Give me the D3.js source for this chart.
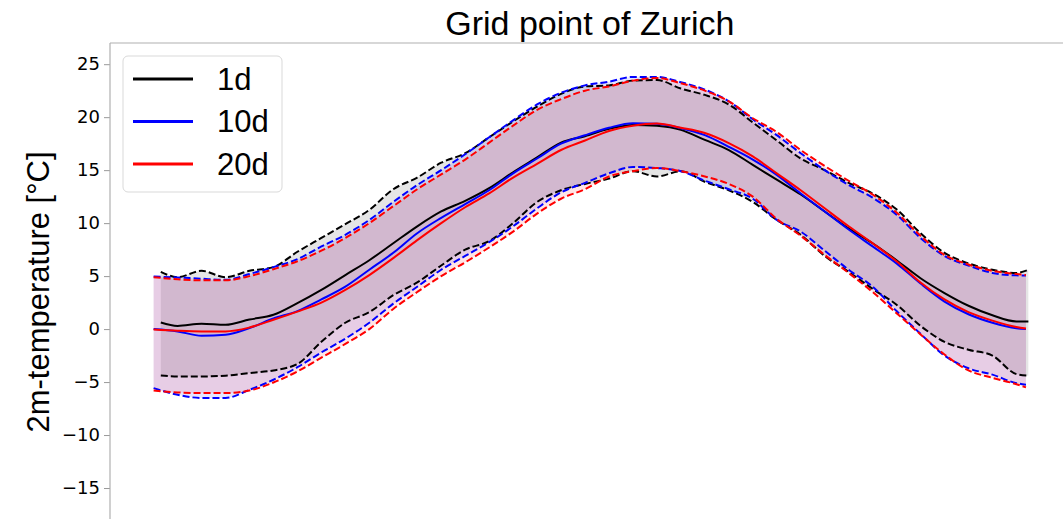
<!DOCTYPE html>
<html>
<head>
<meta charset="utf-8">
<script src="https://cdnjs.cloudflare.com/ajax/libs/d3/7.8.5/d3.min.js"></script>
<style>
  body { margin: 0; background: #fff; }
  svg { display: block; }
</style>
</head>
<body>
<div id="chart"></div>
<script>
// day of year, 10d and 20d runs
var days = [1, 11, 21, 31, 41, 51, 61, 71, 81, 91, 101, 111, 121, 131, 141, 151, 161, 171, 181,
  191, 201, 211, 221, 231, 241, 251, 261, 271, 281, 291, 301, 311, 321, 331, 341, 351, 361, 365];
// the 1d run starts / stops a few days later
var days1d = [4, 11, 21, 31, 41, 51, 61, 71, 81, 91, 101, 111, 121, 131, 141, 151, 161, 171, 181,
  191, 201, 211, 221, 231, 241, 251, 261, 271, 281, 291, 301, 311, 321, 331, 341, 351, 361, 366];

var mean1d = [0.62, 0.3, 0.5, 0.4, 0.9, 1.35, 2.45, 3.7, 5.1, 6.5, 8.1, 9.7, 11.1, 12.1, 13.3, 14.8, 16.2, 17.6, 18.2,
  18.9, 19.27, 19.18, 18.8, 17.85, 16.9, 15.5, 14.1, 12.7, 11.1, 9.5, 8.1, 6.5, 4.8, 3.4, 2.2, 1.3, 0.72, 0.72];
var upper1d = [5.4, 4.9, 5.5, 4.9, 5.5, 5.85, 7.3, 8.6, 9.9, 11.25, 13.2, 14.3, 15.7, 16.6, 18.1, 19.6, 21.0, 22.2, 22.9,
  23.0, 23.45, 23.5, 22.7, 22.1, 21.2, 19.5, 17.8, 16.1, 15.0, 13.8, 12.8, 11.3, 9.05, 7.2, 6.2, 5.6, 5.3, 5.6];
var lower1d = [-4.37, -4.47, -4.47, -4.4, -4.15, -3.9, -3.3, -1.2, 0.6, 1.6, 3.2, 4.4, 6.0, 7.5, 8.3, 10.0, 12.0, 13.1, 13.7,
  14.2, 14.9, 14.4, 14.9, 13.9, 13.1, 12.0, 10.3, 8.9, 6.9, 5.4, 3.8, 2.3, 0.3, -1.2, -1.95, -2.5, -4.25, -4.4];

var mean10d = [0.0, -0.22, -0.63, -0.54, 0.1, 1.0, 1.7, 2.8, 4.0, 5.6, 7.2, 9.05, 10.5, 11.8, 13.1, 14.7, 16.1, 17.5, 18.3,
  19.0, 19.43, 19.37, 18.96, 18.3, 17.2, 16.0, 14.55, 12.8, 11.1, 9.4, 7.8, 6.2, 4.3, 2.6, 1.4, 0.6, 0.08, 0.0];
var upper10d = [4.96, 4.87, 4.75, 4.65, 5.2, 5.85, 6.6, 7.8, 8.9, 10.3, 12.0, 13.6, 15.0, 16.5, 18.1, 19.7, 21.2, 22.3, 23.0,
  23.35, 23.8, 23.8, 23.3, 22.6, 21.5, 19.8, 18.3, 16.6, 15.0, 13.6, 12.4, 10.8, 8.6, 6.9, 6.0, 5.3, 5.07, 5.06];
var lower10d = [-5.57, -6.2, -6.5, -6.5, -5.73, -4.78, -3.6, -2.2, -0.9, 0.6, 2.4, 4.0, 5.6, 6.9, 8.2, 9.7, 11.4, 12.9, 13.8,
  14.7, 15.3, 15.2, 14.9, 14.0, 13.2, 12.3, 10.3, 9.2, 7.4, 5.6, 4.0, 1.7, -0.45, -2.5, -3.7, -4.3, -5.1, -5.25];

var mean20d = [-0.05, -0.16, -0.22, -0.22, 0.15, 0.88, 1.65, 2.5, 3.7, 5.1, 6.7, 8.4, 10.0, 11.5, 12.8, 14.3, 15.6, 16.9, 17.8,
  18.7, 19.2, 19.4, 19.0, 18.5, 17.55, 16.3, 14.7, 13.1, 11.4, 9.7, 8.1, 6.4, 4.4, 2.8, 1.6, 0.8, 0.2, 0.06];
var upper20d = [4.9, 4.7, 4.6, 4.6, 5.0, 5.65, 6.4, 7.4, 8.6, 10.0, 11.6, 13.2, 14.6, 16.0, 17.6, 19.2, 20.7, 21.7, 22.5,
  22.9, 23.45, 23.7, 23.2, 22.5, 21.5, 19.9, 18.6, 16.9, 15.4, 14.0, 12.7, 11.0, 8.8, 7.0, 6.1, 5.5, 5.2, 5.1];
var lower20d = [-5.8, -5.98, -6.04, -6.04, -5.8, -5.04, -4.0, -2.7, -1.4, 0.0, 1.9, 3.5, 5.0, 6.3, 7.7, 9.2, 10.9, 12.3, 13.2,
  14.4, 14.9, 15.2, 14.9, 14.4, 13.7, 12.5, 10.4, 8.8, 7.0, 5.3, 3.5, 1.5, -0.5, -2.4, -3.9, -4.6, -5.2, -5.5];

var yTicks = [-15, -10, -5, 0, 5, 10, 15, 20, 25];
var runNames = ["1d", "10d", "20d"];
var runColors = ["#000000", "#0000ff", "#ff0000"];

var svgWidth = 1063;
var svgHeight = 519;

// axes box (right and bottom edge are outside the picture)
var box = { left: 110, top: 43, right: 1069.6, bottom: 541 };

var svg = d3.select("#chart")
  .append("svg")
  .attr("width", svgWidth)
  .attr("height", svgHeight);

// matplotlib style 5% margins on x
var xScale = d3.scaleLinear()
  .domain([1 - 0.05 * 364, 365 + 0.05 * 364])
  .range([box.left, box.right]);

var yScale = d3.scaleLinear()
  .domain([-20, 27])
  .range([box.bottom, box.top]);

svg.append("clipPath")
  .attr("id", "plotclip")
  .append("rect")
  .attr("x", box.left)
  .attr("y", box.top)
  .attr("width", box.right - box.left)
  .attr("height", box.bottom - box.top);

function rows(dd, m, hi, lo) {
  return dd.map(function(d, i) {
    return { day: d, mean: m[i], hi: hi[i], lo: lo[i] };
  });
}

var runs = [
  rows(days1d, mean1d, upper1d, lower1d),
  rows(days, mean10d, upper10d, lower10d),
  rows(days, mean20d, upper20d, lower20d)
];

var plot = svg.append("g").attr("clip-path", "url(#plotclip)");

var band = d3.area()
  .x(d => xScale(d.day))
  .y0(d => yScale(d.lo))
  .y1(d => yScale(d.hi))
  .curve(d3.curveMonotoneX);

function lineOf(key) {
  return d3.line()
    .x(d => xScale(d.day))
    .y(d => yScale(d[key]))
    .curve(d3.curveMonotoneX);
}

// shaded spread of each run
runs.forEach(function(run, k) {
  plot.append("path")
    .datum(run)
    .attr("d", band)
    .attr("fill", runColors[k])
    .attr("fill-opacity", 0.1);
});

// mean lines and dashed bounds
runs.forEach(function(run, k) {
  plot.append("path")
    .datum(run)
    .attr("d", lineOf("mean"))
    .attr("fill", "none")
    .attr("stroke", runColors[k])
    .attr("stroke-width", 2);

  ["hi", "lo"].forEach(function(key) {
    plot.append("path")
      .datum(run)
      .attr("d", lineOf(key))
      .attr("fill", "none")
      .attr("stroke", runColors[k])
      .attr("stroke-width", 2)
      .attr("stroke-dasharray", "7,3");
  });
});

// y axis
var leftAxis = d3.axisLeft(yScale)
  .tickValues(yTicks)
  .tickSize(6)
  .tickPadding(4)
  .tickSizeOuter(0);

var yAxis = svg.append("g")
  .attr("transform", `translate(${box.left}, 0)`)
  .call(leftAxis);

yAxis.select(".domain").remove();
yAxis.selectAll("line").attr("stroke", "#999");
yAxis.selectAll("text")
  .attr("font-family", "DejaVu Sans")
  .attr("font-size", 18)
  .attr("fill", "#000");

// spines
svg.append("line")
  .attr("x1", box.left).attr("x2", box.left)
  .attr("y1", box.top).attr("y2", box.bottom)
  .attr("stroke", "#b0b0b0")
  .attr("stroke-width", 1.2);
svg.append("line")
  .attr("x1", box.left).attr("x2", box.right)
  .attr("y1", box.top).attr("y2", box.top)
  .attr("stroke", "#b0b0b0")
  .attr("stroke-width", 1.2);

// title and y label
svg.append("text")
  .attr("x", (box.left + box.right) / 2)
  .attr("y", 35)
  .attr("text-anchor", "middle")
  .attr("font-family", "Liberation Sans, Arial, sans-serif")
  .attr("font-size", 34)
  .text("Grid point of Zurich");

svg.append("text")
  .attr("transform", `translate(49, ${(box.top + box.bottom) / 2}) rotate(-90)`)
  .attr("text-anchor", "middle")
  .attr("font-family", "Liberation Sans, Arial, sans-serif")
  .attr("font-size", 31)
  .text("2m-temperature [°C]");

// legend
var legend = svg.append("g");

legend.append("rect")
  .attr("x", 123)
  .attr("y", 56)
  .attr("width", 159)
  .attr("height", 136)
  .attr("rx", 5)
  .attr("fill", "#fff")
  .attr("fill-opacity", 0.8)
  .attr("stroke", "#d9d9d9");

runNames.forEach(function(name, k) {
  var ly = 79 + k * 42.5;
  legend.append("line")
    .attr("x1", 133).attr("x2", 193)
    .attr("y1", ly).attr("y2", ly)
    .attr("stroke", runColors[k])
    .attr("stroke-width", 3);
  legend.append("text")
    .attr("x", 217)
    .attr("y", ly)
    .attr("dy", "0.35em")
    .attr("font-family", "Liberation Sans, Arial, sans-serif")
    .attr("font-size", 31)
    .text(name);
});
</script>
</body>
</html>
